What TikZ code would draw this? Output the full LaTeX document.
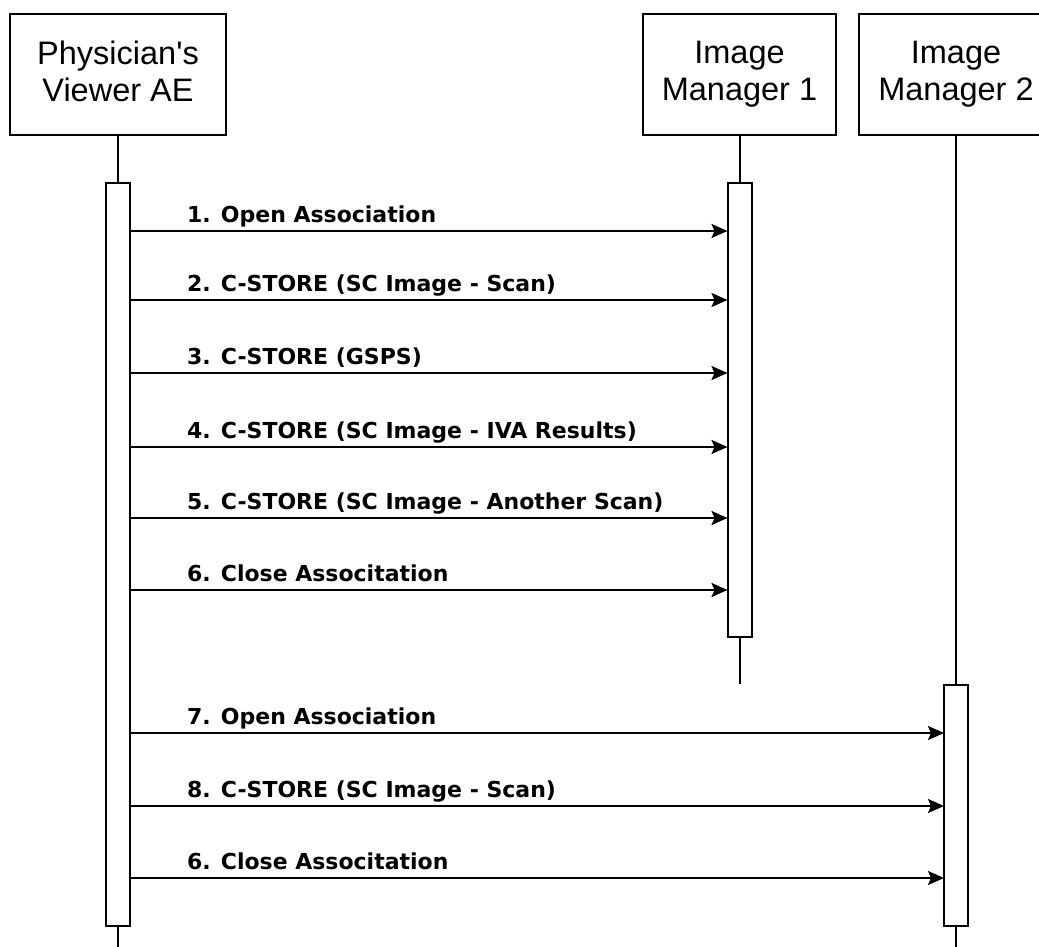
\documentclass[tikz,border=0pt]{standalone}
\usepackage{fontspec}
\setmainfont{Liberation Sans}
\newfontfamily\lblfont{DejaVu Sans}
\usepackage{tikz}
\usetikzlibrary{positioning,arrows.meta}

\begin{document}
\begin{tikzpicture}[x=1pt,y=-1pt,every node/.style={draw, outer sep=0pt, line width=2pt}]
\tikzset{actor/.style={minimum width=216pt,minimum height=121pt,align=center,text depth=7pt,
    font=\fontsize{32.5}{37}\selectfont},
  act/.style={minimum width=24pt,inner sep=0pt},
  msg/.style={-{Stealth[length=16pt,width=14pt,inset=3pt]},line width=2pt},
  lbl/.style={draw=none,anchor=base west,inner sep=0pt,font=\lblfont\fontsize{22}{26}\bfseries\selectfont}}

  \path[use as bounding box,clip] (0,0) rectangle (1039,946);

  % heads
  \node(PV) [actor]                       at (118,74.5)   {Physician\textquotesingle s\\Viewer AE};
  \node(IM1) [actor,minimum width=193pt]  at (739.5,74.5) {Image\\Manager 1};
  \node(IM2) [actor,minimum width=194pt]  at (956,74.5)   {Image\\Manager 2};

  % activation bars
  \node(PVA) [act,minimum height=743pt]  at (118,554.5)  { };
  \node(IM1A) [act,minimum height=454pt] at (739.5,410)  { };
  \node(IM2A) [act,minimum height=241pt] at (956,805.5)  { };

  % lifelines
  \coordinate(PVE) at (118,950);
  \coordinate(IM1E) at (739.5,684);
  \coordinate(IM2E) at (956,950);
  \draw[line width=2pt] (PV.south) -- (PVA.north) (PVA.south) -- (PVE);
  \draw[line width=2pt] (IM1.south) -- (IM1A.north) (IM1A.south) -- (IM1E);
  \draw[line width=2pt] (IM2.south) -- (IM2A.north) (IM2A.south) -- (IM2E);

  % messages
  \foreach \y/\t in {231/1. Open Association,
                     300/2. C-STORE (SC Image - Scan),
                     373/3. C-STORE (GSPS),
                     447/4. C-STORE (SC Image - IVA Results),
                     518/5. C-STORE (SC Image - Another Scan),
                     590/6. Close Associtation}{
    \draw[msg] (PVA.east |- 0,\y) -- (IM1A.west |- 0,\y);
    \node[lbl] at (187,\y-9) {\t};
  }
  \foreach \y/\t in {733/7. Open Association,
                     806/8. C-STORE (SC Image - Scan),
                     878/6. Close Associtation}{
    \draw[msg] (PVA.east |- 0,\y) -- (IM2A.west |- 0,\y);
    \node[lbl] at (187,\y-9) {\t};
  }
\end{tikzpicture}
\end{document}
